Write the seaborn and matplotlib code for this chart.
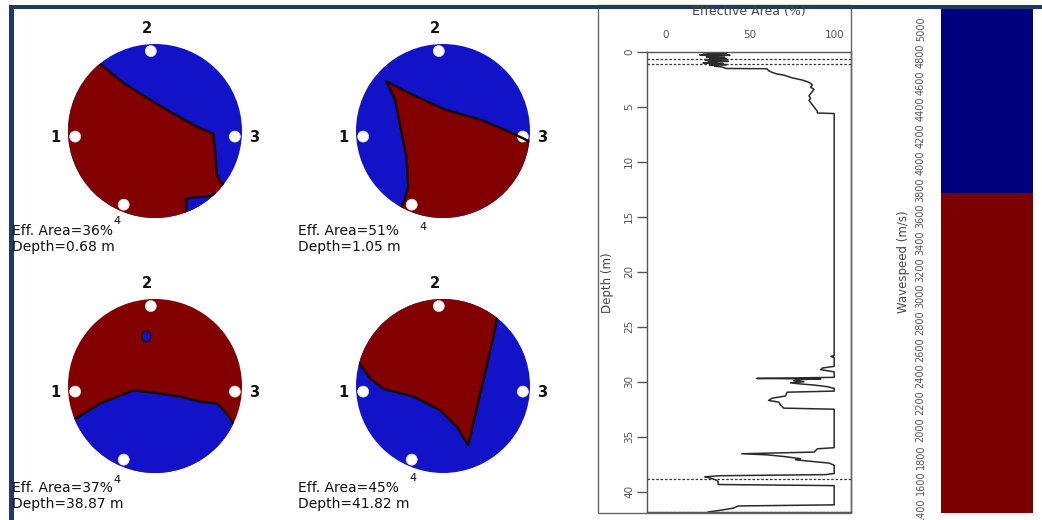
import numpy as np
import pandas as pd
import matplotlib
matplotlib.use("Agg")
import matplotlib.pyplot as plt
import seaborn as sns
from matplotlib.patches import Circle, Polygon, Rectangle, Ellipse

# ---------------- data ----------------
panel_eff_area = [36, 51, 37, 45]
panel_depth = [0.68, 1.05, 38.87, 41.82]
sensor_names = ["1", "2", "3", "4"]
sensor_angles_deg = [184, 93, 356, 247]

# interface polylines inside each cross-section (unit-circle coordinates)
c1_red_boundary = [(-0.63, 0.77), (-0.36, 0.55), (-0.06, 0.36), (0.21, 0.20), (0.52, 0.03),
                   (0.67, -0.03), (0.69, -0.22), (0.71, -0.49), (0.75, -0.58), (0.79, -0.62)]
c1_blue_notch = [(0.69, -0.72), (0.60, -0.75), (0.45, -0.76), (0.36, -0.78), (0.36, -0.94)]
c2_red_boundary = [(-0.48, -0.88), (-0.44, -0.79), (-0.40, -0.64), (-0.42, -0.30), (-0.49, 0.05),
                   (-0.55, 0.36), (-0.65, 0.57), (-0.34, 0.41), (0.04, 0.24), (0.43, 0.13),
                   (0.81, -0.03), (0.99, -0.12)]
c3_blue_boundary = [(-0.92, -0.38), (-0.63, -0.20), (-0.25, -0.05), (-0.06, -0.07), (0.29, -0.12),
                    (0.52, -0.18), (0.71, -0.20), (0.82, -0.31), (0.90, -0.43)]
c3_blue_spot = (-0.10, 0.57)
c4_red_boundary = [(-0.96, 0.26), (-0.84, 0.09), (-0.69, -0.03), (-0.34, -0.12), (-0.03, -0.28),
                   (0.16, -0.47), (0.29, -0.68), (0.43, -0.08), (0.58, 0.57), (0.62, 0.78)]

depth_m = [
    0.00, 0.05, 0.10, 0.15, 0.20, 0.25, 0.30, 0.35, 0.40, 0.45, 0.50, 0.55, 0.60, 0.65, 0.70,
    0.75, 0.80, 0.85, 0.90, 0.95, 1.00, 1.05, 1.10, 1.15, 1.20, 1.25, 1.30, 1.35, 1.40,
    1.50, 1.52, 1.70, 1.85, 2.00, 2.10, 2.20, 2.35, 2.45, 2.55, 2.70, 2.85, 3.00, 3.20, 3.40,
    3.60, 3.80, 4.00, 4.20, 4.40, 4.60, 4.80, 5.00, 5.20, 5.40, 5.55, 5.60,
    27.60, 27.70, 27.80, 28.60, 28.75, 28.90, 29.10, 29.60, 29.70, 29.75, 29.80, 29.90, 30.00,
    30.10, 30.20, 30.30, 30.45, 30.60, 30.85, 30.95, 31.30, 31.50, 31.70, 31.85, 32.10, 32.40, 32.50,
    36.00, 36.10, 36.40, 36.55, 36.65, 36.80, 37.00, 37.10, 37.30, 37.40, 37.60, 38.35, 38.45,
    38.55, 38.65, 38.80, 38.95, 39.10, 39.35, 39.45, 41.20, 41.30, 41.50, 41.70, 41.85]
eff_area_pct = [
    30, 22, 36, 25, 33, 20, 38, 27, 31, 24, 35, 26, 29, 36, 23,
    32, 27, 37, 25, 30, 22, 34, 28, 36, 26, 31, 29, 33, 34,
    36, 60, 61, 63, 66, 70, 72, 75, 78, 81, 84, 86, 87, 86, 88,
    87, 86, 85, 86, 85, 86, 87, 88, 89, 90, 90, 100,
    100, 98, 100, 100, 93, 92, 100, 100, 54, 92, 80, 76, 82,
    74, 80, 88, 96, 100, 100, 72, 71, 63, 61, 67, 68, 70, 100,
    100, 90, 88, 45, 60, 70, 80, 77, 90, 97, 100, 100, 95,
    32, 23, 27, 30, 31, 31, 100, 100, 43, 40, 32, 25]
area_ticks = [0, 50, 100]
depth_ticks = [0, 5, 10, 15, 20, 25, 30, 35, 40]

speed_min, speed_split, speed_max = 1375, 3770, 5154
speed_ticks = list(range(1400, 5001, 200))

# ---------------- style ----------------
sns.set_theme(style="white")
plt.rcParams['font.family'] = ['DejaVu Sans']

W, H = 1042, 520
RED_C, BLUE_C = '#820000', '#1212c8'
RED_W, BLUE_W = '#7d0000', '#00007d'
NAVY = '#1f3a63'
GRAY = '#555555'

fig = plt.figure(figsize=(W / 100, H / 100), dpi=100)
fig.patch.set_facecolor('white')


def fx(px):
    return px / W


def fy(py):
    return 1 - py / H


# ---------------- effective area profile ----------------
axE = fig.add_axes([fx(647), fy(512), (851 - 647) / W, (512 - 52) / H])
df = pd.DataFrame({'area': eff_area_pct, 'depth': depth_m})
sns.lineplot(data=df, x='area', y='depth', sort=False, estimator=None,
             color='#2a2a2a', lw=1.1, ax=axE)
for d in panel_depth:
    axE.axhline(d, color='#333333', lw=0.9, ls=(0, (2, 1.5)))
axE.set_xlim(-11.3, 110)
axE.set_ylim(41.85, 0)
axE.set_xticks(area_ticks)
axE.set_yticks(depth_ticks)
axE.xaxis.tick_top()
axE.tick_params(axis='x', length=0, pad=9, labelsize=7.5, labelcolor=GRAY)
axE.tick_params(axis='y', left=True, length=7.2, width=1, color=GRAY, pad=2,
                labelsize=7.5, labelcolor=GRAY, labelrotation=90)
for lab in axE.get_yticklabels():
    lab.set_va('center')
axE.set_xlabel('')
axE.set_ylabel('')
for s in axE.spines.values():
    s.set_visible(True)
    s.set_color(GRAY)
    s.set_linewidth(1)
fig.text(fx(749), fy(12), 'Effective Area (%)', ha='center', va='center', fontsize=9, color='#444444')
fig.text(fx(608), fy(283), 'Depth (m)', ha='center', va='center', rotation=90, fontsize=8.5, color='#444444')

# ---------------- wavespeed bar ----------------
axW = fig.add_axes([fx(941), fy(513), 92 / W, (513 - 8.5) / H])
axW.bar([0, 0], [speed_split - speed_min, speed_max - speed_split],
        bottom=[speed_min, speed_split], width=1.0, color=[RED_W, BLUE_W], edgecolor='none')
axW.set_xlim(-0.5, 0.5)
axW.set_ylim(speed_min, speed_max)
axW.set_yticks(speed_ticks)
axW.set_xticks([])
axW.tick_params(axis='y', left=False, length=0, pad=11, labelsize=7, labelcolor=GRAY, labelrotation=90)
for lab in axW.get_yticklabels():
    lab.set_va('center')
for s in axW.spines.values():
    s.set_visible(False)
fig.text(fx(903), fy(262), 'Wavespeed (m/s)', ha='center', va='center', rotation=90, fontsize=8.5, color='#444444')

# ---------------- cross sections ----------------
axO = fig.add_axes([0, 0, 1, 1])
axO.set_xlim(0, W)
axO.set_ylim(H, 0)
axO.axis('off')

R = 87.0
centers = [(155, 131), (443, 131), (155, 386), (443, 386)]
text_x = [12, 298, 12, 298]
text_y = [231, 231, 488, 488]
label4_pos = [(-0.44, -1.04), (-0.23, -1.10), (-0.44, -1.08), (-0.34, -1.06)]


def to_px(pts, c):
    p = np.asarray(pts, float)
    return np.c_[c[0] + R * p[:, 0], c[1] - R * p[:, 1]]


def region(bound, cw):
    pts = np.asarray(bound, float)
    a0 = np.degrees(np.arctan2(pts[-1, 1], pts[-1, 0]))
    a1 = np.degrees(np.arctan2(pts[0, 1], pts[0, 0]))
    if cw:
        while a1 > a0:
            a1 -= 360
    else:
        while a1 < a0:
            a1 += 360
    t = np.radians(np.linspace(a0, a1, 80))
    arc = 1.1 * np.c_[np.cos(t), np.sin(t)]
    return np.vstack([pts, arc])


specs = [
    (BLUE_C, [(region(c1_red_boundary, True), RED_C), (region(c1_blue_notch, False), BLUE_C)],
     [c1_red_boundary, c1_blue_notch]),
    (BLUE_C, [(region(c2_red_boundary, True), RED_C)], [c2_red_boundary]),
    (RED_C, [(region(c3_blue_boundary, True), BLUE_C)], [c3_blue_boundary]),
    (BLUE_C, [(region(c4_red_boundary, False), RED_C)], [c4_red_boundary]),
]

label_pos = {"1": (-1.15, -0.08), "2": (-0.09, 1.18), "3": (1.14, -0.08)}

for i, (c, (bg, regs, lines)) in enumerate(zip(centers, specs)):
    disk = Circle(c, R, fc=bg, ec='none')
    axO.add_patch(disk)
    for pts, col in regs:
        p = Polygon(to_px(pts, c), closed=True, fc=col, ec='none')
        axO.add_patch(p)
        p.set_clip_path(disk)
    for pts in lines:
        xy = to_px(pts, c)
        ln, = axO.plot(xy[:, 0], xy[:, 1], color='#1a0505', lw=1.8, solid_joinstyle='round')
        ln.set_clip_path(disk)
    if i == 2:
        sp = to_px([c3_blue_spot], c)[0]
        axO.add_patch(Ellipse(sp, 9, 11, fc=BLUE_C, ec='#1a0505', lw=1))
    # sensors
    ang = np.radians(sensor_angles_deg)
    sens = np.c_[0.92 * np.cos(ang), 0.92 * np.sin(ang)]
    sxy = to_px(sens, c)
    for (sx, sy) in sxy:
        axO.add_patch(Circle((sx, sy), 5.5, fc='white', ec='#dddddd', lw=0.5))
    for name in sensor_names:
        if name == "4":
            lx, ly = to_px([label4_pos[i]], c)[0]
            axO.text(lx, ly, name, ha='center', va='center', fontsize=8, color='#111111')
        else:
            lx, ly = to_px([label_pos[name]], c)[0]
            axO.text(lx, ly, name, ha='center', va='center', fontsize=10.5,
                     fontweight='bold', color='#111111')
    axO.text(text_x[i], text_y[i], f"Eff. Area={panel_eff_area[i]}%", ha='left', va='center',
             fontsize=10, color='#111111')
    axO.text(text_x[i], text_y[i] + 16, f"Depth={panel_depth[i]:.2f} m", ha='left', va='center',
             fontsize=10, color='#111111')

# frames
axO.add_patch(Rectangle((598, 5), 851 - 598, 513 - 5, fill=False, ec='#666666', lw=1))
axO.add_patch(Rectangle((9, 4.5), W - 9, 4, fc=NAVY, ec='none'))
axO.add_patch(Rectangle((9, 4.5), 4.5, H, fc=NAVY, ec='none'))

fig.savefig('out.png', dpi=100, facecolor='white')
